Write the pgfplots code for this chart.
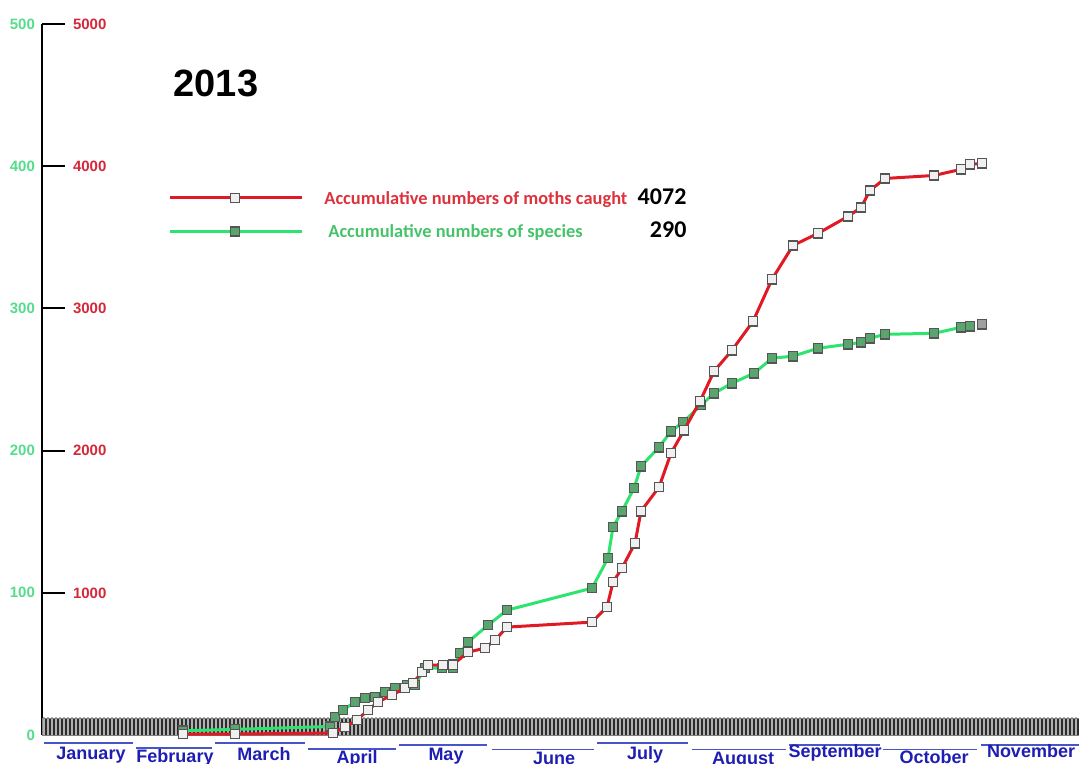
\documentclass[border=0pt]{standalone}
\usepackage{pgfplots}
\pgfplotsset{compat=1.18}
\usepackage{fontspec}
\setmainfont{Liberation Sans}
\newfontfamily\calibri{Carlito}
\usetikzlibrary{patterns.meta}

\definecolor{mothred}{RGB}{225,25,35}
\definecolor{specgreen}{RGB}{45,228,110}
\definecolor{redlab}{RGB}{212,40,58}
\definecolor{greenlab}{RGB}{85,220,140}
\definecolor{redtxt}{RGB}{220,50,60}
\definecolor{greentxt}{RGB}{70,195,105}
\definecolor{monthblue}{RGB}{30,30,180}
\definecolor{monthline}{RGB}{70,85,200}
\definecolor{markgray}{RGB}{85,85,85}
\definecolor{greenmark}{RGB}{90,165,110}
\definecolor{bandgray}{RGB}{45,45,45}

\begin{document}
\begin{tikzpicture}
\tikzset{
  month/.style={anchor=north, inner sep=0pt, text=monthblue,
    font=\fontsize{9}{10}\selectfont\bfseries},
  mline/.style={monthline, line width=0.8pt},
}

% species axis (left labels, green)
\begin{axis}[
  scale only axis, width=518.5pt, height=355.5pt,
  xmin=42, xmax=1079, ymin=0, ymax=500,
  clip=false, hide x axis, axis y line*=left,
  y axis line style={line width=1pt, black, -},
  ytick={0,100,...,500},
  ytick align=inside, major tick length=11.5pt,
  y tick style={line width=1pt, black},
  yticklabel style={font=\fontsize{7.5}{8}\selectfont\bfseries, text=greenlab},
  /pgf/number format/assume math mode=true,
  /pgf/number format/1000 sep={},
]
  % nightly trap band
  \addplot[draw=gray, mark=none, fill=bandgray,
    postaction={pattern={Lines[angle=90,distance=2pt,line width=0.55pt]}, pattern color=gray!60}]
    coordinates {(42,12) (1079,12)} \closedcycle;

  \addplot[specgreen, line width=1.5pt, mark=square*, mark size=2.3pt,
    mark options={draw=markgray, fill=greenmark, line width=0.7pt, solid}]
    coordinates {
    (183,3) (235,4) (330,6) (335,12.6) (343,17.6) (355,23.2) (365,26) (375,26.7)
    (385,30.2) (395,33) (407,35.1) (415,35.1) (425,47.1) (442,47.1) (453,47.1)
    (460,57.6) (468,65.4) (488,77.3) (507,87.8) (592,103.3) (608,124.4) (613,146.2)
    (622,157.4) (634,173.6) (641,189) (659,202.4) (671,213.6) (683,220) (701,232)
    (714,240.3) (732,247.4) (754,254.4) (772,265) (793,266.4) (818,272) (848,274.8)
    (861,276.2) (870,279) (885,281.8) (934,282.5) (961,286.7) (970,287.4)
  };
  \addplot[only marks, mark=square*, mark size=2.3pt,
    mark options={draw=markgray, fill=gray!75, line width=0.7pt}]
    coordinates {(982,288.8)};

  \node[font=\fontsize{19}{20}\selectfont\bfseries] at (axis cs:216,458.5) {2013};

  \draw[mline] (axis cs:44,-5.6) -- (axis cs:133,-5.6);
  \draw[mline] (axis cs:136,-9.1) -- (axis cs:212,-9.1);
  \draw[mline] (axis cs:215,-5.6) -- (axis cs:305,-5.6);
  \draw[mline] (axis cs:308,-9.8) -- (axis cs:396,-9.8);
  \draw[mline] (axis cs:399,-7.0) -- (axis cs:487,-7.0);
  \draw[mline] (axis cs:492,-10.2) -- (axis cs:594,-10.2);
  \draw[mline] (axis cs:597,-5.6) -- (axis cs:688,-5.6);
  \draw[mline] (axis cs:692,-10.2) -- (axis cs:786,-10.2);
  \draw[mline] (axis cs:789,-7.0) -- (axis cs:880,-7.0);
  \draw[mline] (axis cs:883,-10.2) -- (axis cs:977,-10.2);
  \draw[mline] (axis cs:981,-7.0) -- (axis cs:1079,-7.0);

  \node[month] at (axis cs:91,-8.2) {January};
  \node[month] at (axis cs:175,-10.2) {February};
  \node[month] at (axis cs:264,-8.2) {March};
  \node[month] at (axis cs:357,-10.9) {April};
  \node[month] at (axis cs:446,-9.1) {May};
  \node[month] at (axis cs:554,-11.6) {June};
  \node[month] at (axis cs:645,-7.7) {July};
  \node[month] at (axis cs:743,-11.6) {August};
  \node[month] at (axis cs:835,-6.0) {September};
  \node[month] at (axis cs:934,-10.9) {October};
  \node[month] at (axis cs:1031,-6.0) {November};

  \coordinate (bl) at (axis cs:0,-19.69);
  \coordinate (tr) at (axis cs:1079,516.9);
\end{axis}

% moths axis (right-of-tick labels, red)
\begin{axis}[
  scale only axis, width=518.5pt, height=355.5pt,
  xmin=42, xmax=1079, ymin=0, ymax=5000,
  clip=false, hide x axis, axis y line*=left,
  y axis line style={draw=none},
  ytick={1000,2000,...,5000},
  major tick length=0pt, y tick style={draw=none},
  yticklabel style={anchor=west, xshift=12pt,
    font=\fontsize{7.5}{8}\selectfont\bfseries, text=redlab},
  scaled y ticks=false,
  /pgf/number format/assume math mode=true,
  /pgf/number format/1000 sep={},
  legend style={at={(axis cs:168,3659)}, anchor=west, draw=none, fill=none,
    inner sep=0pt, row sep=7.5pt, nodes={inner sep=0pt}},
  legend cell align=left,
  legend image code/.code={
    \draw[mark repeat=2, mark phase=2, #1] plot coordinates {(0pt,0pt) (32.5pt,0pt) (66pt,0pt)};
    \path (76.5pt,0pt);
  },
]
  \addplot[mothred, line width=1.5pt, mark=square*, mark size=2.3pt,
    mark options={draw=markgray, fill=gray!12, line width=0.7pt, solid}]
    coordinates {
    (183,7) (235,7) (333,14) (345,56) (357,105) (368,176) (378,232) (392,281)
    (405,330) (413,365) (422,443) (428,492) (443,492) (453,495) (468,583) (485,611)
    (495,668) (507,759) (592,794) (607,900) (613,1075) (622,1174) (635,1349)
    (641,1574) (659,1743) (671,1982) (684,2143) (700,2347) (714,2558) (732,2706)
    (753,2909) (772,3205) (793,3443) (818,3528) (848,3647) (861,3710) (870,3830)
    (885,3914) (934,3935) (961,3978) (970,4013) (982,4020)
  };
  \addlegendentry{\makebox[181pt][l]{\calibri\bfseries\fontsize{9.2}{10}\selectfont\textcolor{redtxt}{Accumulative numbers of moths caught}\hfill\fontsize{12}{12}\selectfont 4072}}
  \addlegendimage{specgreen, line width=1.5pt, mark=square*, mark size=2.3pt,
    mark options={draw=markgray, fill=greenmark, line width=0.7pt, solid}}
  \addlegendentry{\makebox[181pt][l]{\calibri\bfseries\fontsize{9.2}{10}\selectfont\hspace{2pt}\textcolor{greentxt}{Accumulative numbers of species}\hfill\fontsize{12}{12}\selectfont 290}}
\end{axis}

\pgfresetboundingbox
\path[use as bounding box] (bl) rectangle (tr);
\end{tikzpicture}
\end{document}
